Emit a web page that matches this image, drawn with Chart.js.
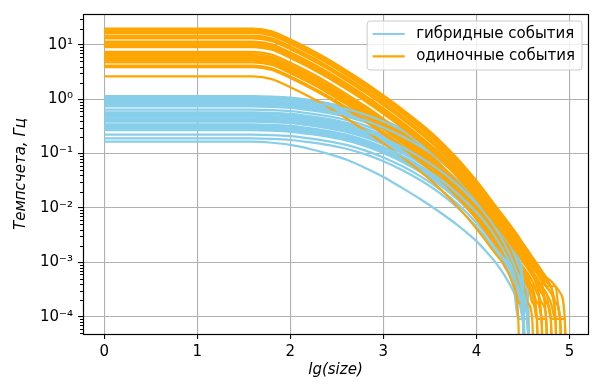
<!DOCTYPE html>
<html>
<head>
<meta charset="utf-8">
<script src="https://cdn.jsdelivr.net/npm/chart.js"></script>
<style>
  html, body { margin: 0; padding: 0; background: #fff; }
  canvas { display: block; }
</style>
</head>
<body>
<canvas id="rates" width="594" height="385"></canvas>
<script>
// bins along x, lg(size)
const lgSize = [0, 1.6, 1.8, 2.0, 2.2, 2.4, 2.6, 2.8, 3.0, 3.2, 3.4, 3.6, 3.8, 4.0, 4.1, 4.2, 4.3,
  4.4, 4.45, 4.5, 4.55, 4.6, 4.65, 4.7, 4.75, 4.8, 4.85, 4.9, 4.95, 5.0];

// rates are kept as lg(rate, Hz); EMPTY = bin with no events
const EMPTY = -9;

// гибридные события (skyblue curves)
const hybridLg = [
  [0.06, 0.06, 0.05, 0.03, -0.01, -0.07, -0.15, -0.26, -0.4, -0.57, -0.77, -1.01, -1.3, -1.66, -1.87, -2.12, -2.42, -2.8, -3.04, -3.34, EMPTY],
  [0.04, 0.04, 0.03, 0.01, -0.03, -0.08, -0.15, -0.25, -0.38, -0.54, -0.73, -0.96, -1.24, -1.58, -1.78, -2.02, -2.31, -2.68, -2.91, -3.21, -3.44, EMPTY],
  [0.01, 0.01, 0.0, -0.02, -0.06, -0.11, -0.18, -0.28, -0.41, -0.57, -0.76, -0.99, -1.27, -1.61, -1.81, -2.05, -2.34, -2.71, -2.94, -3.34, EMPTY],
  [-0.02, -0.02, -0.03, -0.05, -0.09, -0.14, -0.21, -0.31, -0.44, -0.6, -0.79, -1.02, -1.3, -1.64, -1.84, -2.08, -2.37, -2.74, -2.97, -3.34, -3.56, EMPTY],
  [-0.05, -0.05, -0.06, -0.08, -0.12, -0.17, -0.24, -0.34, -0.47, -0.63, -0.82, -1.05, -1.33, -1.67, -1.87, -2.11, -2.4, -2.77, -3.0, -3.44, EMPTY],
  [-0.07, -0.07, -0.08, -0.1, -0.14, -0.19, -0.26, -0.36, -0.49, -0.65, -0.84, -1.07, -1.35, -1.69, -1.89, -2.13, -2.42, -2.79, -3.02, -3.44, -4.04, EMPTY],
  [-0.1, -0.1, -0.11, -0.13, -0.17, -0.22, -0.29, -0.39, -0.52, -0.68, -0.87, -1.1, -1.38, -1.72, -1.92, -2.16, -2.45, -2.82, -3.05, -3.56, EMPTY],
  [-0.13, -0.13, -0.14, -0.16, -0.2, -0.25, -0.32, -0.42, -0.55, -0.71, -0.9, -1.13, -1.41, -1.75, -1.95, -2.19, -2.48, -2.85, -3.08, -3.44, -3.74, EMPTY],
  [-0.19, -0.19, -0.2, -0.22, -0.26, -0.31, -0.38, -0.48, -0.61, -0.78, -0.98, -1.21, -1.49, -1.83, -2.03, -2.27, -2.56, -2.93, -3.16, -3.56, EMPTY],
  [-0.24, -0.24, -0.25, -0.27, -0.31, -0.36, -0.43, -0.53, -0.66, -0.82, -1.01, -1.24, -1.52, -1.86, -2.06, -2.3, -2.59, -2.96, -3.19, -3.74, -4.04, EMPTY],
  [-0.27, -0.27, -0.28, -0.3, -0.34, -0.39, -0.46, -0.56, -0.69, -0.85, -1.04, -1.27, -1.55, -1.89, -2.09, -2.33, -2.62, -2.99, -3.22, -3.74, EMPTY],
  [-0.3, -0.3, -0.31, -0.33, -0.37, -0.42, -0.49, -0.59, -0.72, -0.88, -1.07, -1.3, -1.58, -1.92, -2.12, -2.36, -2.65, -3.02, -3.25, -3.56, -4.04, EMPTY],
  [-0.32, -0.32, -0.33, -0.35, -0.39, -0.44, -0.51, -0.61, -0.74, -0.9, -1.09, -1.32, -1.6, -1.94, -2.14, -2.38, -2.67, -3.04, -3.34, -3.74, EMPTY],
  [-0.35, -0.35, -0.36, -0.38, -0.42, -0.47, -0.54, -0.64, -0.77, -0.93, -1.12, -1.35, -1.63, -1.97, -2.17, -2.41, -2.7, -3.07, -3.34, -3.74, -4.04, EMPTY],
  [-0.38, -0.38, -0.39, -0.41, -0.45, -0.5, -0.57, -0.67, -0.8, -0.96, -1.15, -1.38, -1.66, -2.0, -2.2, -2.44, -2.73, -3.1, -3.44, -4.04, EMPTY],
  [-0.41, -0.41, -0.42, -0.44, -0.48, -0.53, -0.6, -0.7, -0.83, -0.99, -1.18, -1.41, -1.69, -2.03, -2.23, -2.47, -2.76, -3.13, -3.44, -3.74, -4.04, EMPTY],
  [-0.46, -0.46, -0.47, -0.49, -0.53, -0.58, -0.65, -0.75, -0.88, -1.04, -1.23, -1.46, -1.74, -2.08, -2.28, -2.52, -2.81, -3.18, -3.56, -4.04, EMPTY],
  [-0.48, -0.48, -0.49, -0.51, -0.55, -0.6, -0.67, -0.77, -0.9, -1.06, -1.25, -1.48, -1.76, -2.1, -2.3, -2.54, -2.83, -3.2, -3.44, -3.74, -4.04, EMPTY],
  [-0.51, -0.51, -0.52, -0.54, -0.58, -0.63, -0.7, -0.8, -0.93, -1.09, -1.28, -1.51, -1.79, -2.13, -2.33, -2.57, -2.86, -3.23, -3.56, -4.04, EMPTY],
  [-0.54, -0.54, -0.55, -0.57, -0.61, -0.66, -0.73, -0.83, -0.96, -1.12, -1.31, -1.54, -1.82, -2.16, -2.36, -2.6, -2.89, -3.26, -3.56, -4.04, -4.04, EMPTY],
  [-0.57, -0.57, -0.58, -0.6, -0.64, -0.69, -0.76, -0.86, -0.99, -1.15, -1.34, -1.57, -1.85, -2.19, -2.39, -2.63, -2.92, -3.34, -3.74, -4.04, EMPTY],
  [-0.65, -0.65, -0.66, -0.68, -0.72, -0.77, -0.84, -0.94, -1.07, -1.23, -1.42, -1.65, -1.93, -2.27, -2.47, -2.71, -3.0, -3.44, -3.74, -4.04, EMPTY],
  [-0.72, -0.72, -0.73, -0.75, -0.79, -0.84, -0.91, -1.01, -1.14, -1.3, -1.49, -1.72, -2.0, -2.34, -2.54, -2.78, -3.07, -3.44, -4.04, -4.04, -4.04, EMPTY],
  [-0.78, -0.78, -0.8, -0.84, -0.91, -1.0, -1.11, -1.26, -1.43, -1.63, -1.84, -2.07, -2.32, -2.61, -2.79, -2.99, -3.23, -3.54, -3.74, -4.04, EMPTY]
];

// одиночные события (orange curves)
const singleLg = [
  [1.3, 1.3, 1.25, 1.1, 0.93, 0.74, 0.53, 0.31, 0.07, -0.18, -0.45, -0.75, -1.1, -1.5, -1.72, -1.95, -2.17, -2.4, -2.52, -2.65, -2.77, -2.9, -3.02, -3.15, -3.27, -3.34, -3.44, -3.56, -4.04, EMPTY],
  [1.28, 1.28, 1.23, 1.08, 0.91, 0.72, 0.51, 0.29, 0.05, -0.2, -0.47, -0.77, -1.12, -1.52, -1.74, -1.97, -2.19, -2.42, -2.54, -2.67, -2.79, -2.92, -3.04, -3.17, -3.29, -3.44, -3.74, -4.04, EMPTY],
  [1.25, 1.25, 1.2, 1.05, 0.88, 0.69, 0.48, 0.26, 0.02, -0.23, -0.5, -0.8, -1.15, -1.55, -1.77, -2.0, -2.22, -2.45, -2.57, -2.7, -2.82, -2.95, -3.07, -3.2, -3.34, -3.44, -3.44, -4.04, -4.04, EMPTY],
  [1.22, 1.22, 1.17, 1.02, 0.85, 0.66, 0.45, 0.23, -0.01, -0.26, -0.53, -0.83, -1.18, -1.58, -1.8, -2.03, -2.25, -2.48, -2.6, -2.73, -2.85, -2.98, -3.1, -3.23, -3.44, -3.56, -4.04, EMPTY],
  [1.17, 1.17, 1.12, 0.97, 0.8, 0.61, 0.4, 0.18, -0.06, -0.31, -0.58, -0.88, -1.23, -1.63, -1.85, -2.08, -2.3, -2.53, -2.65, -2.78, -2.9, -3.03, -3.15, -3.28, -3.44, -3.44, -3.74, -4.04, EMPTY],
  [1.14, 1.14, 1.09, 0.94, 0.77, 0.58, 0.37, 0.15, -0.09, -0.34, -0.61, -0.91, -1.26, -1.66, -1.88, -2.11, -2.33, -2.56, -2.68, -2.81, -2.93, -3.06, -3.18, -3.34, -3.74, -4.04, EMPTY],
  [1.12, 1.12, 1.07, 0.92, 0.75, 0.56, 0.35, 0.13, -0.11, -0.36, -0.63, -0.93, -1.28, -1.68, -1.9, -2.13, -2.35, -2.58, -2.7, -2.83, -2.95, -3.08, -3.2, -3.34, -3.44, -3.56, -4.04, EMPTY],
  [1.06, 1.06, 1.01, 0.86, 0.69, 0.5, 0.29, 0.07, -0.17, -0.42, -0.69, -0.99, -1.34, -1.74, -1.96, -2.19, -2.41, -2.64, -2.76, -2.89, -3.01, -3.14, -3.34, -3.56, -4.04, EMPTY],
  [1.04, 1.04, 0.99, 0.84, 0.67, 0.48, 0.27, 0.05, -0.19, -0.44, -0.71, -1.01, -1.36, -1.76, -1.98, -2.21, -2.43, -2.66, -2.78, -2.91, -3.03, -3.16, -3.28, -3.44, -3.56, -3.74, -4.04, -4.04, EMPTY],
  [1.01, 1.01, 0.96, 0.81, 0.64, 0.45, 0.24, 0.02, -0.22, -0.47, -0.74, -1.04, -1.39, -1.79, -2.01, -2.24, -2.46, -2.69, -2.81, -2.94, -3.06, -3.19, -3.34, -3.44, -3.74, -4.04, EMPTY],
  [0.98, 0.98, 0.93, 0.78, 0.61, 0.42, 0.21, -0.01, -0.25, -0.5, -0.77, -1.07, -1.42, -1.82, -2.04, -2.27, -2.49, -2.72, -2.84, -2.97, -3.09, -3.22, -3.44, -3.74, -4.04, EMPTY],
  [0.96, 0.96, 0.91, 0.76, 0.59, 0.4, 0.19, -0.03, -0.27, -0.52, -0.79, -1.09, -1.44, -1.84, -2.06, -2.29, -2.51, -2.74, -2.86, -2.99, -3.11, -3.24, -3.34, -3.56, -3.56, -4.04, -4.04, EMPTY],
  [0.87, 0.87, 0.82, 0.67, 0.5, 0.31, 0.1, -0.12, -0.36, -0.61, -0.88, -1.18, -1.53, -1.93, -2.15, -2.38, -2.6, -2.83, -2.95, -3.08, -3.2, -3.34, -3.56, -4.04, EMPTY],
  [0.83, 0.83, 0.78, 0.63, 0.46, 0.27, 0.06, -0.16, -0.4, -0.65, -0.92, -1.22, -1.57, -1.97, -2.19, -2.42, -2.64, -2.87, -2.99, -3.12, -3.24, -3.44, -3.44, -4.04, -4.04, EMPTY],
  [0.8, 0.8, 0.75, 0.6, 0.43, 0.24, 0.03, -0.19, -0.43, -0.68, -0.95, -1.25, -1.6, -2.0, -2.22, -2.45, -2.67, -2.9, -3.02, -3.15, -3.34, -3.56, -4.04, EMPTY],
  [0.77, 0.77, 0.72, 0.57, 0.4, 0.21, 0.0, -0.22, -0.46, -0.71, -0.98, -1.28, -1.63, -2.03, -2.25, -2.48, -2.7, -2.93, -3.05, -3.18, -3.34, -3.44, -3.74, -4.04, EMPTY],
  [0.74, 0.74, 0.69, 0.54, 0.37, 0.18, -0.03, -0.25, -0.49, -0.74, -1.01, -1.31, -1.66, -2.06, -2.28, -2.51, -2.73, -2.96, -3.08, -3.21, -3.34, -3.74, -4.04, EMPTY],
  [0.71, 0.71, 0.66, 0.51, 0.34, 0.15, -0.06, -0.28, -0.52, -0.77, -1.04, -1.34, -1.69, -2.09, -2.31, -2.54, -2.76, -2.99, -3.11, -3.24, -3.44, -3.56, -4.04, -4.04, EMPTY],
  [0.68, 0.68, 0.63, 0.48, 0.31, 0.12, -0.09, -0.31, -0.55, -0.8, -1.07, -1.37, -1.72, -2.12, -2.34, -2.57, -2.79, -3.02, -3.14, -3.34, -3.74, -4.04, EMPTY],
  [0.62, 0.62, 0.57, 0.42, 0.25, 0.06, -0.15, -0.37, -0.61, -0.86, -1.13, -1.43, -1.78, -2.18, -2.4, -2.63, -2.85, -3.08, -3.34, -3.56, -4.04, EMPTY],
  [0.59, 0.59, 0.54, 0.39, 0.22, 0.03, -0.18, -0.4, -0.64, -0.89, -1.16, -1.46, -1.81, -2.21, -2.43, -2.66, -2.88, -3.11, -3.74, -3.74, EMPTY],
  [0.42, 0.42, 0.37, 0.22, 0.05, -0.14, -0.35, -0.57, -0.81, -1.06, -1.33, -1.63, -1.98, -2.38, -2.6, -2.83, -3.05, -3.44, -4.04, EMPTY]
];

const xTicks = [0, 1, 2, 3, 4, 5];
const yTicks = [1e-4, 1e-3, 1e-2, 1e-1, 1, 10];
const yTickLabels = ["10⁻⁴", "10⁻³", "10⁻²", "10⁻¹", "10⁰", "10¹"];
const legendLabels = ["гибридные события", "одиночные события"];

const BLUE = "#87ceeb";
const ORANGE = "#ffa500";
const FONT = "DejaVu Sans";
const FS = 15;
const Y_MIN = 4.8e-5, Y_MAX = 37;

// minor ticks 2..9 x 10^k inside the axis range
const yMinor = [];
for (let k = -5; k <= 1; k++) {
  for (let m = 2; m <= 9; m++) {
    const v = m * Math.pow(10, k);
    if (v >= Y_MIN && v <= Y_MAX) yMinor.push(v);
  }
}

function toPoints(row) {
  return row.map((v, i) => ({ x: lgSize[i], y: Math.pow(10, v) }));
}

function lineSet(row, color) {
  return {
    data: toPoints(row),
    borderColor: color,
    borderWidth: 2.2,
    pointRadius: 0,
    fill: false,
    cubicInterpolationMode: "monotone"
  };
}

// first dataset is drawn on top: orange over blue, a few blue curves in between
const onTopBlue = [2, 6, 11, 16];
const datasets = [];
singleLg.forEach((r, i) => {
  datasets.push(lineSet(r, ORANGE));
  if (i === 11) onTopBlue.forEach(k => datasets.push(lineSet(hybridLg[k], BLUE)));
});
hybridLg.forEach((r, k) => {
  if (!onTopBlue.includes(k)) datasets.push(lineSet(r, BLUE));
});

// frame on all four sides, short minor ticks, legend box in the corner
const framePlugin = {
  id: "frame",
  afterDatasetsDraw(chart) {
    const { ctx, chartArea: a, scales } = chart;
    ctx.save();
    ctx.strokeStyle = "#000";
    ctx.lineWidth = 1;
    ctx.beginPath();
    yMinor.forEach(v => {
      const py = Math.round(scales.y.getPixelForValue(v)) + 0.5;
      ctx.moveTo(a.left - 3, py);
      ctx.lineTo(a.left, py);
    });
    ctx.stroke();
    ctx.lineWidth = 1.2;
    ctx.strokeRect(a.left + 0.5, a.top + 0.5, a.right - a.left, a.bottom - a.top);
    ctx.restore();
  },
  afterDraw(chart) {
    const { ctx, chartArea: a } = chart;
    ctx.save();
    ctx.font = FS + "px \"" + FONT + "\"";
    const textW = Math.max(...legendLabels.map(t => ctx.measureText(t).width));
    const right = a.right - 6, top = a.top + 7;
    const w = textW + 56, h = 49;
    const left = right - w, r = 3;
    ctx.beginPath();
    ctx.moveTo(left + r, top);
    ctx.arcTo(right, top, right, top + h, r);
    ctx.arcTo(right, top + h, left, top + h, r);
    ctx.arcTo(left, top + h, left, top, r);
    ctx.arcTo(left, top, right, top, r);
    ctx.closePath();
    ctx.fillStyle = "rgba(255,255,255,0.8)";
    ctx.fill();
    ctx.strokeStyle = "#cccccc";
    ctx.lineWidth = 1;
    ctx.stroke();
    const colors = [BLUE, ORANGE];
    legendLabels.forEach((t, i) => {
      const cy = top + 13 + i * 22.3;
      ctx.strokeStyle = colors[i];
      ctx.lineWidth = 2.2;
      ctx.beginPath();
      ctx.moveTo(left + 5.5, cy);
      ctx.lineTo(left + 37.5, cy);
      ctx.stroke();
      ctx.fillStyle = "#000";
      ctx.textBaseline = "middle";
      ctx.fillText(t, left + 49, cy);
    });
    ctx.restore();
  }
};

new Chart(document.getElementById("rates").getContext("2d"), {
  type: "line",
  data: { datasets },
  options: {
    responsive: false,
    animation: false,
    devicePixelRatio: 1,
    layout: { padding: { top: 5, right: 6, left: 0, bottom: 0 } },
    plugins: { legend: { display: false }, tooltip: { enabled: false } },
    scales: {
      x: {
        type: "linear",
        min: -0.23,
        max: 5.2,
        afterBuildTicks: s => { s.ticks = xTicks.map(v => ({ value: v })); },
        afterFit: s => { s.height = 51; },
        grid: { color: "#b0b0b0", lineWidth: 1.1, tickColor: "#000", tickLength: 5 },
        border: { display: false },
        ticks: { color: "#000", padding: 4, font: { family: FONT, size: FS }, maxRotation: 0 },
        title: {
          display: true,
          text: "lg(size)",
          color: "#000",
          font: { family: FONT, size: FS, style: "italic" },
          padding: { top: 0, bottom: 6 }
        }
      },
      y: {
        type: "logarithmic",
        min: Y_MIN,
        max: Y_MAX,
        afterBuildTicks: s => { s.ticks = yTicks.map(v => ({ value: v })); },
        afterFit: s => { s.width = 83; },
        grid: { color: "#b0b0b0", lineWidth: 1.1, tickColor: "#000", tickLength: 5 },
        border: { display: false },
        ticks: {
          autoSkip: false,
          color: "#000",
          padding: 5,
          font: { family: FONT, size: FS },
          callback: v => {
            const i = yTicks.findIndex(t => Math.abs(t - v) / t < 1e-6);
            return i >= 0 ? yTickLabels[i] : "";
          }
        },
        title: {
          display: true,
          text: "Темпсчета, Гц",
          color: "#000",
          font: { family: FONT, size: FS, style: "italic" },
          padding: { top: 12, bottom: 0 }
        }
      }
    }
  },
  plugins: [framePlugin]
});
</script>
</body>
</html>
